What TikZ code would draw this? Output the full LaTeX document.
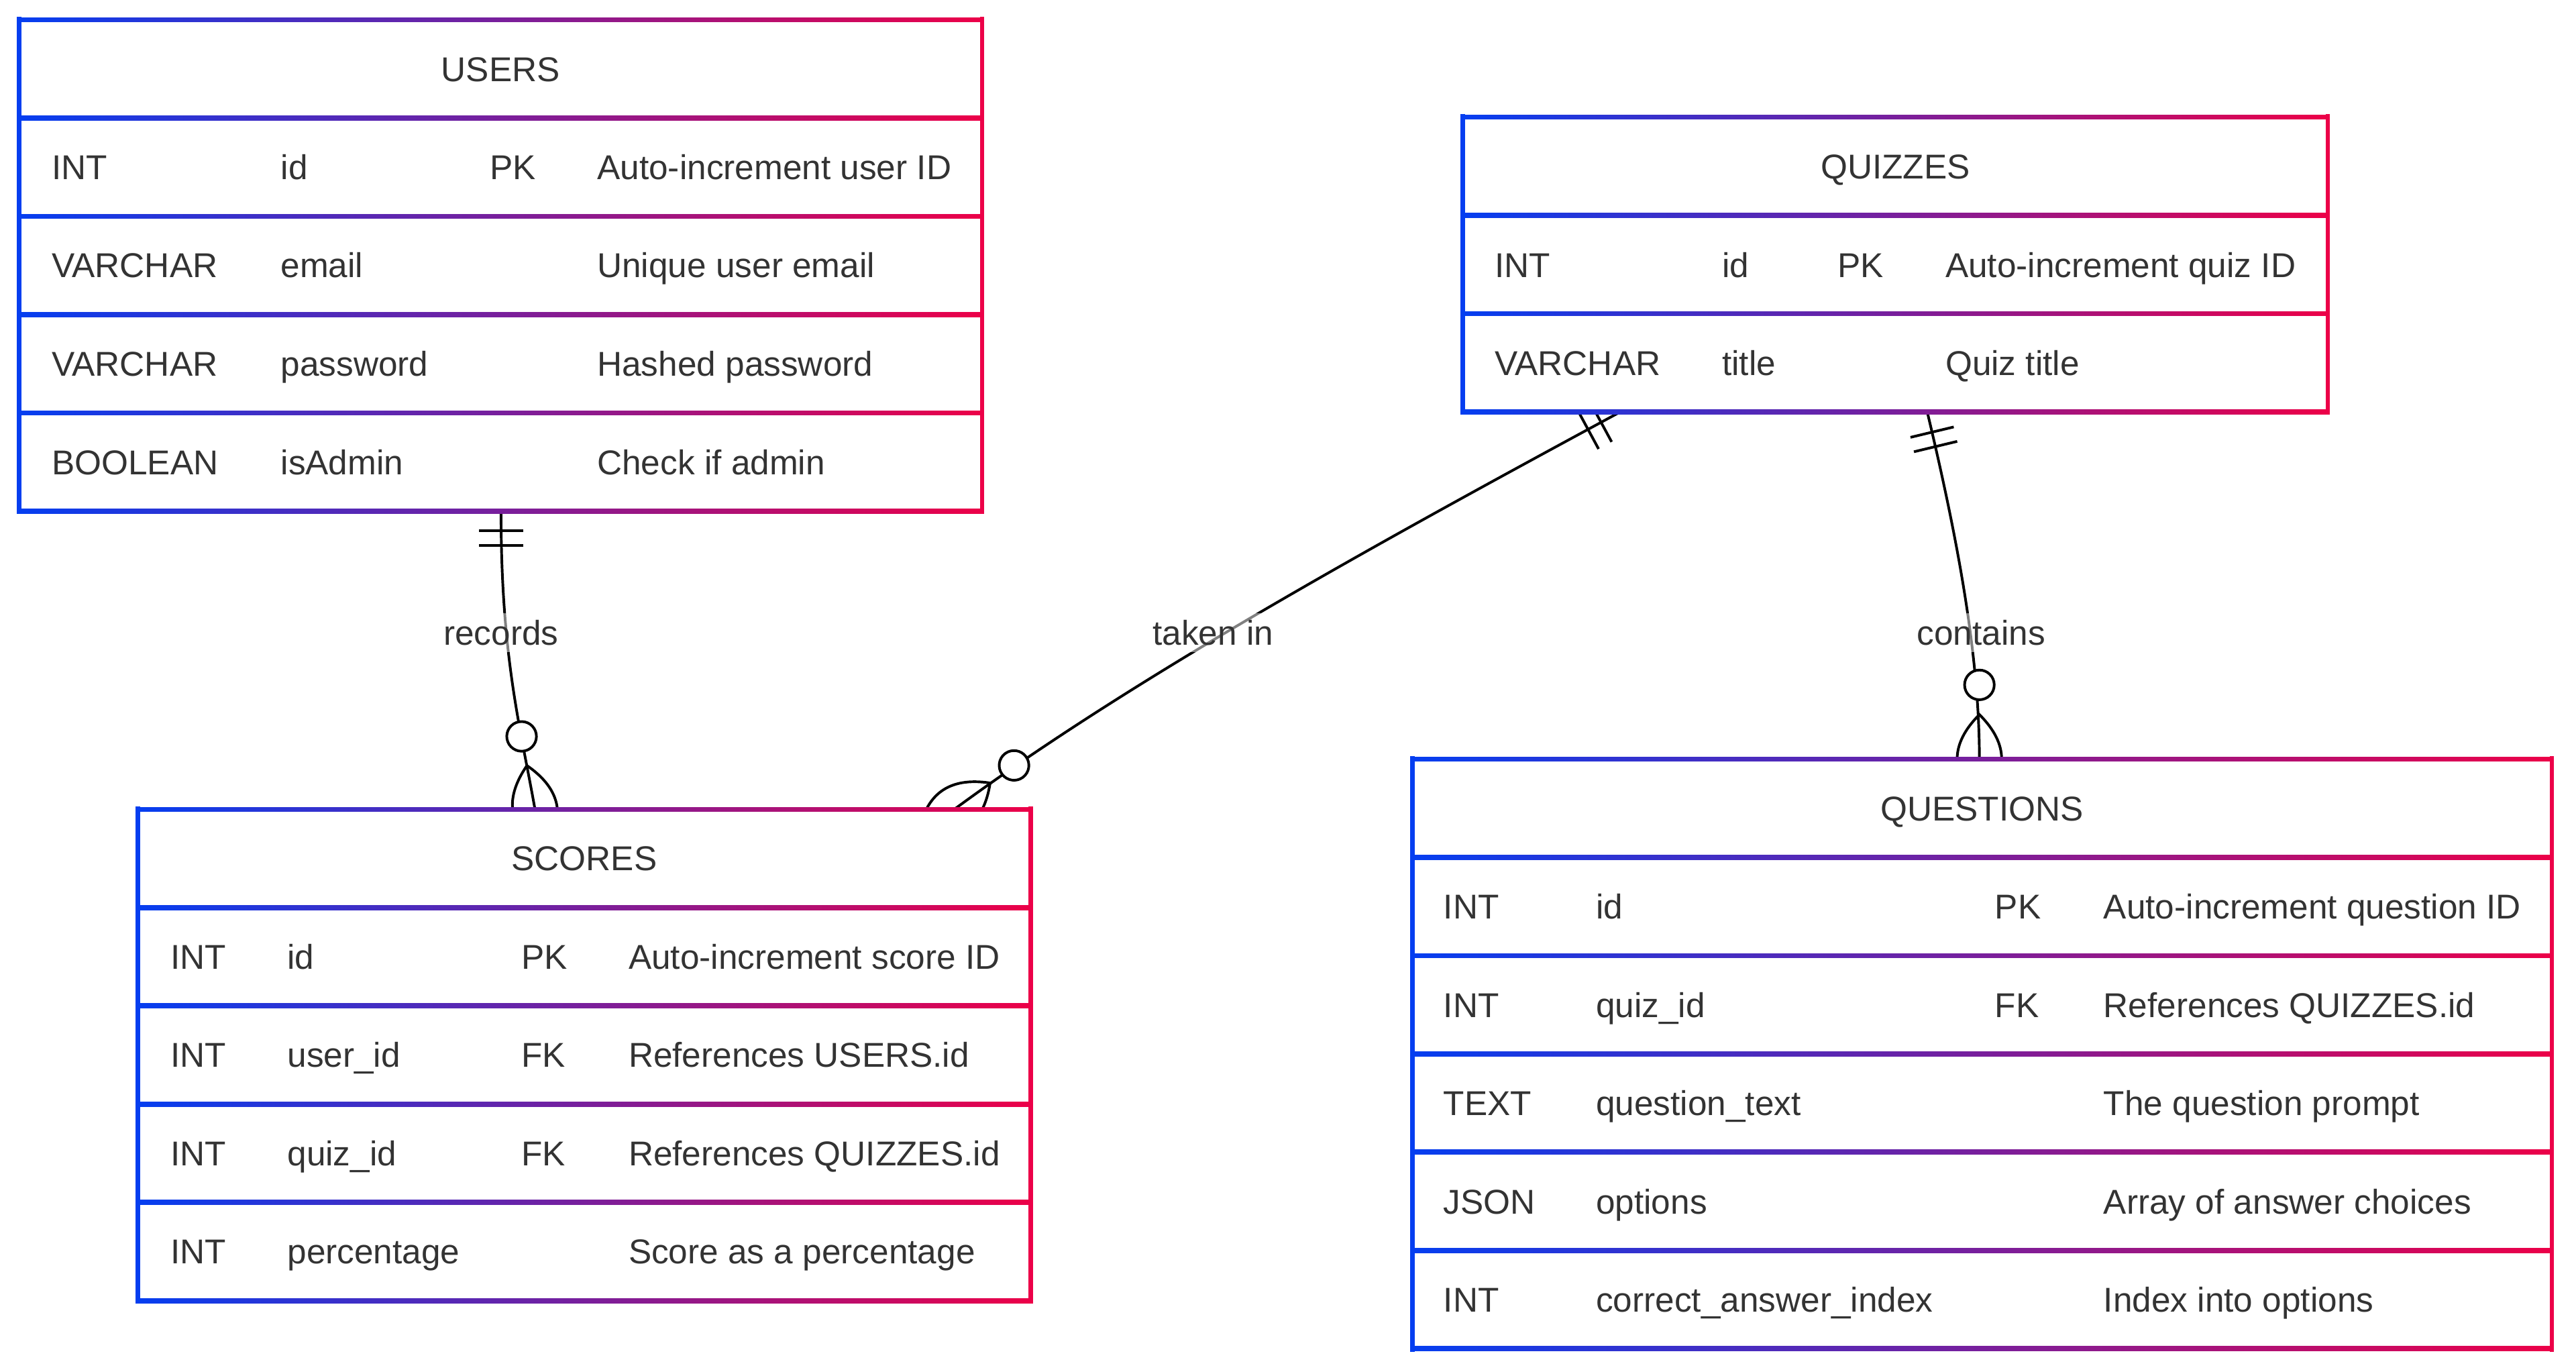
\documentclass[tikz,border=0pt]{standalone}
\usepackage{fontspec}
\setmainfont{Liberation Sans}
\usetikzlibrary{fit,backgrounds}

\definecolor{erblue}{RGB}{5,62,240}
\definecolor{erred}{RGB}{236,0,72}
\definecolor{txt}{RGB}{51,51,51}

% one gradient rule across a table
\newcommand{\gradrule}[3]{%
  \shade[left color=erblue,right color=erred] (#1,#3-1.35) rectangle (#2,#3+1.35);}

% name, left, top, right, rows (header included)
\newcommand{\ertable}[5]{%
  \node[tablebg, fit={(#2,#3) (#4,#3+59.62*#5)}] (#1) {};
  \foreach \i in {0,...,#5} \gradrule{#2}{#4}{#3+59.62*\i};
  \draw[erblue, sidebar] (#1.north west) -- (#1.south west);
  \draw[erred, sidebar] (#1.north east) -- (#1.south east);}

% name, row centre, cells as x/text
\newcommand{\errow}[3]{%
  \foreach \cx/\ct [count=\k] in {#3}
    \node[cell] (#1-\k) at (\cx,#2+7.5) {\ct};}

\begin{document}
\begin{tikzpicture}[x=0.5pt,y=-0.5pt,font=\fontsize{10.45pt}{12pt}\selectfont,
  conn/.style={black,line width=0.8pt},
  tablebg/.style={fill=white,draw=none,inner sep=0pt},
  sidebar/.style={line width=1.35pt,line cap=rect},
  cell/.style={anchor=base west,inner sep=0pt,text=txt},
  tblhead/.style={anchor=base,inner sep=0pt,text=txt},
  lbl/.style={anchor=base,fill=white,fill opacity=0.5,text opacity=1,
              text=txt,inner sep=2pt},
  onlyone/.pic={\draw[conn] (12,-13.5) -- (12,13.5) (21,-13.5) -- (21,13.5);},
  zeromany/.pic={\draw[conn] (-27,0) .. controls (-9,-18) and (9,-18) .. (27,0)
                             .. controls (9,18) and (-9,18) .. (-27,0);
                 \draw[conn,fill=white] (45,0) circle (9);}]

  \useasboundingbox (0,0) rectangle (1563,831);

  % tables
  \ertable{users}{12}{12}{595.5}{5}
  \node[tblhead] (users-h) at (303.75,49.3) {USERS};
  \errow{users-r1}{101.4}{31/INT,170/id,297/PK,362/Auto-increment user ID}
  \errow{users-r2}{161.0}{31/VARCHAR,170/email,362/Unique user email}
  \errow{users-r3}{220.6}{31/VARCHAR,170/password,362/Hashed password}
  \errow{users-r4}{280.3}{31/BOOLEAN,170/isAdmin,362/Check if admin}

  \ertable{quizzes}{888}{71}{1412}{3}
  \node[tblhead] (quizzes-h) at (1150,108.3) {QUIZZES};
  \errow{quizzes-r1}{160.6}{906.5/INT,1044.5/id,1114.5/PK,1180/Auto-increment quiz ID}
  \errow{quizzes-r2}{220.2}{906.5/VARCHAR,1044.5/title,1180/Quiz title}

  \ertable{scores}{84}{491}{625}{5}
  \node[tblhead] (scores-h) at (354.5,528.3) {SCORES};
  \errow{scores-r1}{580.4}{103/INT,174/id,316/PK,381/Auto-increment score ID}
  \errow{scores-r2}{640.0}{103/INT,174/user\_id,316/FK,381/References USERS.id}
  \errow{scores-r3}{699.7}{103/INT,174/quiz\_id,316/FK,381/References QUIZZES.id}
  \errow{scores-r4}{759.3}{103/INT,174/percentage,381/Score as a percentage}

  \ertable{questions}{857.5}{460.5}{1548}{6}
  \node[tblhead] (questions-h) at (1202.5,497.8) {QUESTIONS};
  \errow{questions-r1}{550.0}{875.5/INT,968/id,1210/PK,1276/Auto-increment question ID}
  \errow{questions-r2}{609.7}{875.5/INT,968/quiz\_id,1210/FK,1276/References QUIZZES.id}
  \errow{questions-r3}{669.3}{875.5/TEXT,968/question\_text,1276/The question prompt}
  \errow{questions-r4}{729.0}{875.5/JSON,968/options,1276/Array of answer choices}
  \errow{questions-r5}{788.6}{875.5/INT,968/correct\_answer\_index,1276/Index into options}

  % relations, kept under the tables
  \begin{scope}[on background layer]
    \fill[white] (0,0) rectangle (1563,831);

    \coordinate (usr-s) at (304,310);
    \coordinate (sco-a) at (324.6,491);
    \coordinate (qz-a)  at (982,250.5);
    \coordinate (sco-b) at (579,491);
    \coordinate (qz-b)  at (1169.5,250.5);
    \coordinate (qst-a) at (1201,460.5);

    \draw[conn] (usr-s) .. controls +(0,90) and +(-8.6,-49) .. (sco-a);
    \draw[conn] (qz-a) .. controls +(-148,80) and +(108.8,-80) .. (sco-b);
    \draw[conn] (qz-b) .. controls +(19.1,80) and +(0,-61) .. (qst-a);

    \pic[rotate=-90]   at (usr-s) {onlyone};
    \pic[rotate=100.4] at (sco-a) {zeromany};
    \pic[rotate=208.4] at (qz-a)  {onlyone};
    \pic[rotate=36.3]  at (sco-b) {zeromany};
    \pic[rotate=-76.5] at (qz-b)  {onlyone};
    \pic[rotate=90]    at (qst-a) {zeromany};

    \node[lbl] (records) at (304,391.3)  {records};
    \node[lbl] (takenin) at (736,391.3)  {taken in};
    \node[lbl] (contains) at (1202,391.3) {contains};
  \end{scope}
\end{tikzpicture}
\end{document}
